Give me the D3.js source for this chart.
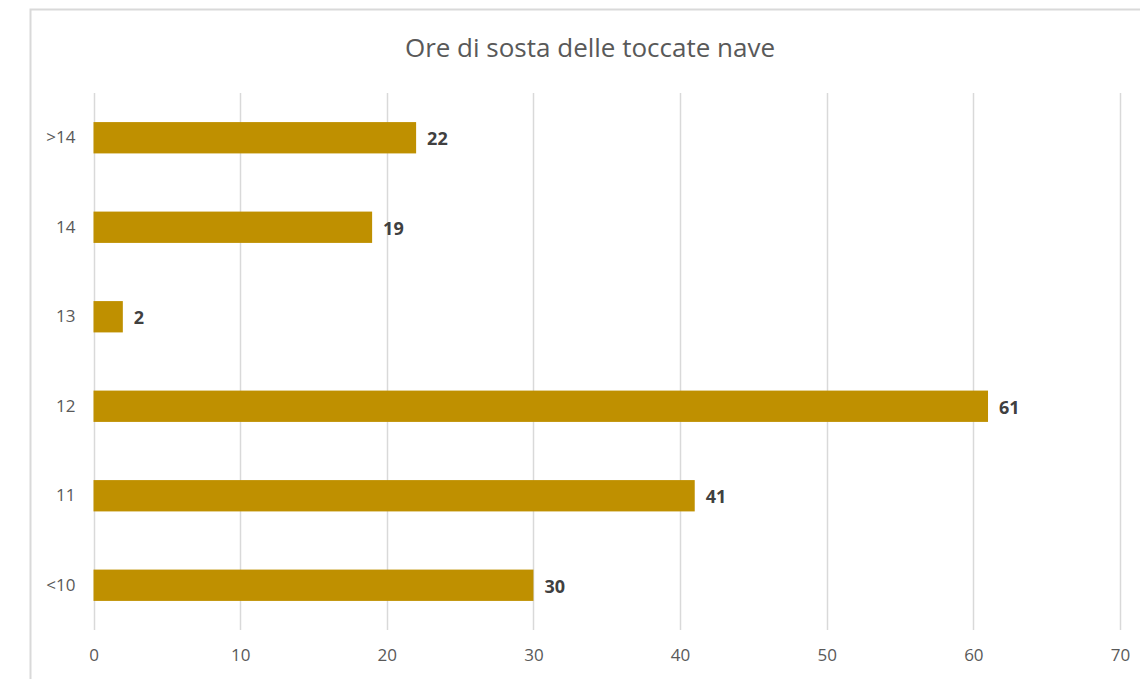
<!DOCTYPE html>
<html><head><meta charset="utf-8">
<script src="https://cdn.jsdelivr.net/npm/d3@7"></script>
<style>body{margin:0;background:#fff}svg{display:block}</style>
</head><body>
<script>
const categories = [">14", "14", "13", "12", "11", "<10"];
const values = [22, 19, 2, 61, 41, 30];
const xTicks = [0, 10, 20, 30, 40, 50, 60, 70];
const title = "Ore di sosta delle toccate nave";

(function () {
const W = 1140, H = 679;
const svg = d3.select("body").append("svg").attr("width", W).attr("height", H);
svg.append("rect").attr("x", 30.5).attr("y", 9.5).attr("width", 1200).attr("height", 800)
  .attr("fill", "#fff").attr("stroke", "#d9d9d9").attr("stroke-width", 2);

const mLeft = 93.5, mRight = 1120, mTop = 93, mBottom = 630;
const x = d3.scaleLinear().domain([0, 70]).range([mLeft, mRight]);
const y = d3.scaleBand().domain(categories).range([mTop, mBottom]).paddingInner(0.65).paddingOuter(0.325);

svg.append("text").attr("x", 590).attr("y", 57).attr("text-anchor", "middle")
  .attr("font-family", "Open Sans").attr("font-size", 26).attr("fill", "#595959").text(title);

const grid = svg.append("g");
grid.selectAll("line").data(xTicks).join("line")
  .attr("x1", d => Math.round(x(d)) + 0.5).attr("x2", d => Math.round(x(d)) + 0.5)
  .attr("y1", mTop).attr("y2", mBottom).attr("stroke", "#d9d9d9").attr("stroke-width", 1.5);

const xAxis = d3.axisBottom(x).tickValues(xTicks).tickSize(0).tickPadding(0);
const gx = svg.append("g").attr("transform", `translate(0,${mBottom + 19})`).call(xAxis);
gx.select(".domain").remove();
gx.selectAll("text").attr("font-family", "Open Sans").attr("font-size", 17).attr("fill", "#595959");

const yAxis = d3.axisLeft(y).tickSize(0).tickPadding(0);
const gy = svg.append("g").attr("transform", `translate(${mLeft - 18},0)`).call(yAxis);
gy.select(".domain").remove();
gy.selectAll("text").attr("font-family", "Open Sans").attr("font-size", 17).attr("fill", "#595959");

svg.append("g").selectAll("rect").data(values).join("rect")
  .attr("x", x(0)).attr("y", (d, i) => y(categories[i]))
  .attr("width", d => x(d) - x(0)).attr("height", y.bandwidth())
  .attr("fill", "#bf9000");

svg.append("g").selectAll("text").data(values).join("text")
  .attr("x", d => x(d) + 11).attr("y", (d, i) => y(categories[i]) + y.bandwidth() / 2 + 1)
  .attr("dy", "0.35em").attr("font-family", "Open Sans").attr("font-weight", "bold")
  .attr("font-size", 18).attr("fill", "#404040").text(d => d);
})();
</script>
</body></html>
